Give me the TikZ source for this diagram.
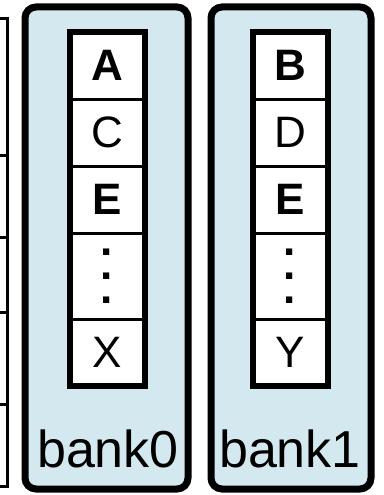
\documentclass[tikz,border=0pt]{standalone}
\usepackage{fontspec}
\setmainfont{Liberation Sans}
\usetikzlibrary{positioning, fit}
\usepackage{xcolor}
\definecolor{bankblue}{RGB}{212,233,239}

\begin{document}
\begin{tikzpicture}[x=1pt, y=-1pt,
  bank/.style={draw, line width=7pt, rounded corners=11pt, fill=bankblue,
               minimum width=163pt, minimum height=482pt, outer sep=0pt},
  cell/.style={draw, line width=3pt, fill=white, minimum width=75pt, minimum height=67pt,
               inner sep=0pt, outer sep=0pt, font=\fontsize{44}{44}\selectfont},
  dotcell/.style={cell, minimum height=86pt, align=center,
                  font=\bfseries\fontsize{44}{24}\selectfont},
  column/.style={draw, line width=6pt, inner sep=0pt},
  lbl/.style={font=\fontsize{52}{52}\selectfont, inner sep=0pt, anchor=base},
  grid/.style={line width=3pt}
]
\useasboundingbox (0,0) rectangle (383,495);

% cut-off table on the left
\draw[grid] (0,18.5) -| (7.5,486.5) -- (0,486.5);
\foreach \y in {155,237,312,404.5}
  \draw[grid] (0,\y) -- (7.5,\y);

% banks
\node[bank] (bank0) at (106.5,248) {};
\node[bank, minimum width=160pt] (bank1) at (291,248) {};

% bank0 entries
\node[cell] (a) at (107,65.5) {\textbf{A}};
\node[cell, below=0pt of a] (c) {C};
\node[cell, below=0pt of c] (e0) {\textbf{E}};
\node[dotcell, below=0pt of e0] (dots0) {.\\.\\.};
\node[cell, below=0pt of dots0] (x) {X};
\node[column, fit=(a)(x)] (col0) {};
\node[lbl] (name0) at (108,467) {bank0};

% bank1 entries
\node[cell] (b) at (290,65.5) {\textbf{B}};
\node[cell, below=0pt of b] (d) {D};
\node[cell, below=0pt of d] (e1) {\textbf{E}};
\node[dotcell, below=0pt of e1] (dots1) {.\\.\\.};
\node[cell, below=0pt of dots1] (y) {Y};
\node[column, fit=(b)(y)] (col1) {};
\node[lbl] (name1) at (290,467) {bank1};
\end{tikzpicture}
\end{document}
